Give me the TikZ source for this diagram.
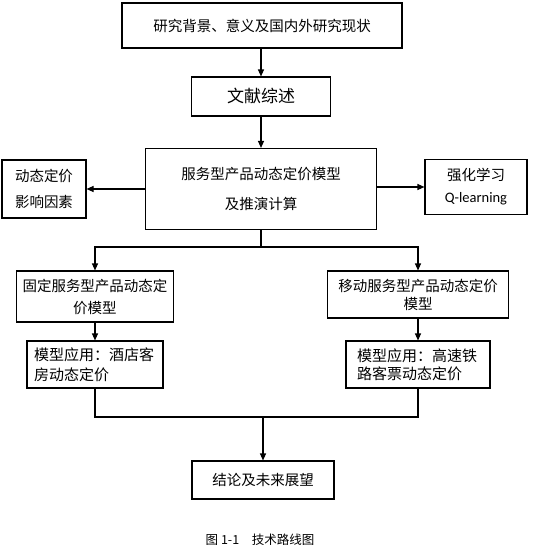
\documentclass[tikz,border=0pt]{standalone}
\usepackage{fontspec}
\setmainfont{Noto Sans CJK SC}
\newfontfamily\latfont{Carlito}
\usetikzlibrary{arrows.meta}
\tikzset{
   box/.style={draw,line width=1.1pt,inner sep=0pt,align=center},
   arr/.style={line width=1.1pt,->,>={Triangle[length=7pt,width=6pt]}},
   link/.style={line width=1.1pt}
}
\begin{document}
\begin{tikzpicture}[x=1pt,y=-1pt]
   \useasboundingbox (0,0) rectangle (539,554);
   \node[box,minimum width=280pt,minimum height=45pt,font=\fontsize{14.5}{20}\selectfont] (bg) at (262,25.5) {研究背景、意义及国内外研究现状};
   \node[box,minimum width=139pt,minimum height=39pt,font=\fontsize{17}{20}\selectfont] (lit) at (261,96.5) {文献综述};
   \node[box,minimum width=231pt,minimum height=81pt,font=\fontsize{14.5}{30}\selectfont] (model) at (261,189) {服务型产品动态定价模型\\及推演计算};
   \node[box,minimum width=84pt,minimum height=58pt,font=\fontsize{14.5}{26}\selectfont] (factor) at (44,189) {动态定价\\影响因素};
   \node[box,minimum width=102pt,minimum height=55pt,font=\fontsize{14.5}{22}\selectfont] (rl) at (476,187) {强化学习\\{\latfont Q-learning}};
   \node[box,minimum width=157pt,minimum height=51pt,font=\fontsize{14.5}{22}\selectfont] (fix) at (95,296.5) {固定服务型产品动态定\\价模型};
   \node[box,minimum width=181pt,minimum height=47pt,font=\fontsize{14.5}{18}\selectfont] (mob) at (418,294.5) {移动服务型产品动态定价\\模型};
   \node[box,minimum width=136pt,minimum height=47pt,text width=122pt,align=left,font=\fontsize{15}{20}\selectfont] (fixapp) at (95,364.5) {模型应用：酒店客\\房动态定价};
   \node[box,minimum width=144pt,minimum height=47pt,text width=122pt,align=left,font=\fontsize{15}{18}\selectfont] (mobapp) at (418,364.5) {模型应用：高速铁\\路客票动态定价};
   \node[box,minimum width=142pt,minimum height=38pt,font=\fontsize{14.5}{20}\selectfont] (end) at (263,480) {结论及未来展望};
   \node[font=\fontsize{12.5}{14}\selectfont] (cap) at (260,540) {图 1-1\quad 技术路线图};
   \coordinate (split) at (261,247);
   \coordinate (merge) at (263,417);
   \draw[arr] (bg.south -| lit.north) -- (lit.north);
   \draw[arr] (lit.south) -- (model.north);
   \draw[arr] (model.west) -- (factor.east);
   \draw[arr] (model.east |- rl) -- (rl.west);
   \draw[link] (model.south) -- (split);
   \draw[arr] (split) -| (fix.north);
   \draw[arr] (split) -| (mob.north);
   \draw[arr] (fix.south) -- (fixapp.north);
   \draw[arr] (mob.south) -- (mobapp.north);
   \draw[link] (fixapp.south) |- (merge) -| (mobapp.south);
   \draw[arr] (merge) -- (end.north);
\end{tikzpicture}
\end{document}
